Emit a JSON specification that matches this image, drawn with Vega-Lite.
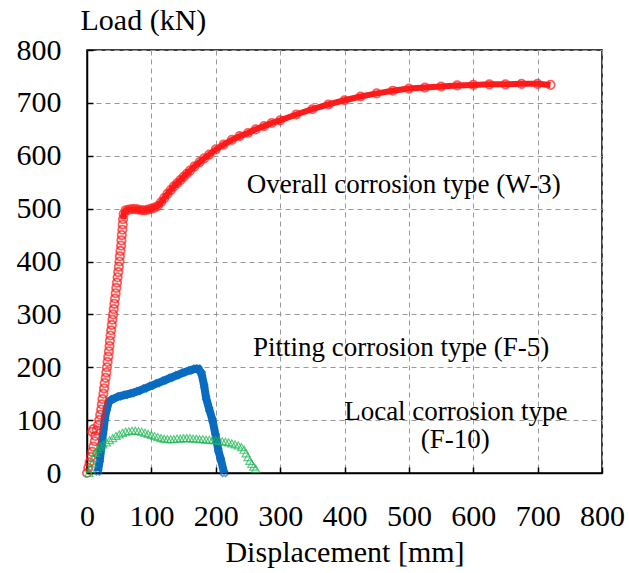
{
  "$schema": "https://vega.github.io/schema/vega-lite/v6.json",
  "width": 515,
  "height": 423,
  "autosize": "none",
  "padding": {"left": 87, "top": 50, "right": 27, "bottom": 100},
  "background": "white",
  "config": {
    "font": "Liberation Serif",
    "view": {"stroke": "#000", "strokeWidth": 1.5},
    "axis": {
      "labelFont": "Liberation Serif", "labelFontSize": 30, "labelColor": "#000",
      "titleFont": "Liberation Serif", "titleFontSize": 30, "titleColor": "#000", "titleFontWeight": "normal",
      "domainColor": "#000", "domainWidth": 1.5,
      "tickColor": "#000", "tickSize": -6, "tickWidth": 1.5,
      "labelOverlap": false, "labelFlush": false,
      "gridColor": "#999", "gridDash": [5, 4], "gridWidth": 1
    }
  },
  "datasets": {
    "curves": [
      {"series": "W-3", "x": 0, "y": 0}, {"series": "W-3", "x": 2, "y": 10}, {"series": "W-3", "x": 4, "y": 20}, {"series": "W-3", "x": 6, "y": 30},
      {"series": "W-3", "x": 8, "y": 40}, {"series": "W-3", "x": 10, "y": 50}, {"series": "W-3", "x": 12, "y": 60}, {"series": "W-3", "x": 13, "y": 70},
      {"series": "W-3", "x": 8, "y": 78}, {"series": "W-3", "x": 10, "y": 83},
      {"series": "W-3", "x": 15, "y": 80}, {"series": "W-3", "x": 17, "y": 90}, {"series": "W-3", "x": 19, "y": 100}, {"series": "W-3", "x": 20.5, "y": 110},
      {"series": "W-3", "x": 22, "y": 120}, {"series": "W-3", "x": 23, "y": 130}, {"series": "W-3", "x": 24, "y": 140}, {"series": "W-3", "x": 25.5, "y": 150},
      {"series": "W-3", "x": 26.5, "y": 160}, {"series": "W-3", "x": 27.5, "y": 170}, {"series": "W-3", "x": 29, "y": 180}, {"series": "W-3", "x": 30, "y": 190},
      {"series": "W-3", "x": 31, "y": 200}, {"series": "W-3", "x": 32, "y": 210}, {"series": "W-3", "x": 33, "y": 220}, {"series": "W-3", "x": 34, "y": 230},
      {"series": "W-3", "x": 35, "y": 240}, {"series": "W-3", "x": 35.5, "y": 250}, {"series": "W-3", "x": 36.5, "y": 260}, {"series": "W-3", "x": 37.5, "y": 270},
      {"series": "W-3", "x": 38.5, "y": 280}, {"series": "W-3", "x": 39.5, "y": 290}, {"series": "W-3", "x": 40.5, "y": 300}, {"series": "W-3", "x": 41.5, "y": 310},
      {"series": "W-3", "x": 42.5, "y": 320}, {"series": "W-3", "x": 43.5, "y": 330}, {"series": "W-3", "x": 44.5, "y": 340}, {"series": "W-3", "x": 45.5, "y": 350},
      {"series": "W-3", "x": 46.5, "y": 360}, {"series": "W-3", "x": 47.5, "y": 370}, {"series": "W-3", "x": 48.5, "y": 380}, {"series": "W-3", "x": 49.5, "y": 390},
      {"series": "W-3", "x": 50.5, "y": 400}, {"series": "W-3", "x": 51, "y": 410}, {"series": "W-3", "x": 52, "y": 420}, {"series": "W-3", "x": 53, "y": 430},
      {"series": "W-3", "x": 53.5, "y": 440}, {"series": "W-3", "x": 54, "y": 450}, {"series": "W-3", "x": 55, "y": 460}, {"series": "W-3", "x": 55.5, "y": 470},
      {"series": "W-3", "x": 56, "y": 480}, {"series": "W-3", "x": 57, "y": 490},
      {"series": "W-3", "x": 60, "y": 497}, {"series": "W-3", "x": 65, "y": 498}, {"series": "W-3", "x": 70, "y": 499}, {"series": "W-3", "x": 75, "y": 499}, {"series": "W-3", "x": 80, "y": 498}, {"series": "W-3", "x": 85, "y": 497}, {"series": "W-3", "x": 90, "y": 497},
      {"series": "W-3", "x": 95, "y": 498}, {"series": "W-3", "x": 100, "y": 500}, {"series": "W-3", "x": 105, "y": 502}, {"series": "W-3", "x": 110, "y": 505}, {"series": "W-3", "x": 115, "y": 512}, {"series": "W-3", "x": 120, "y": 520}, {"series": "W-3", "x": 125, "y": 528}, {"series": "W-3", "x": 130, "y": 535},
      {"series": "W-3", "x": 135, "y": 542}, {"series": "W-3", "x": 140, "y": 548}, {"series": "W-3", "x": 145, "y": 554}, {"series": "W-3", "x": 150, "y": 560}, {"series": "W-3", "x": 155, "y": 566}, {"series": "W-3", "x": 160, "y": 572}, {"series": "W-3", "x": 167, "y": 580}, {"series": "W-3", "x": 175, "y": 588},
      {"series": "W-3", "x": 182, "y": 595}, {"series": "W-3", "x": 190, "y": 602}, {"series": "W-3", "x": 200, "y": 612}, {"series": "W-3", "x": 212, "y": 621}, {"series": "W-3", "x": 225, "y": 630}, {"series": "W-3", "x": 237, "y": 637}, {"series": "W-3", "x": 250, "y": 643},
      {"series": "W-3", "x": 262, "y": 650}, {"series": "W-3", "x": 275, "y": 656}, {"series": "W-3", "x": 287, "y": 662}, {"series": "W-3", "x": 300, "y": 667}, {"series": "W-3", "x": 325, "y": 678}, {"series": "W-3", "x": 350, "y": 688}, {"series": "W-3", "x": 375, "y": 697}, {"series": "W-3", "x": 400, "y": 705},
      {"series": "W-3", "x": 425, "y": 712}, {"series": "W-3", "x": 450, "y": 718}, {"series": "W-3", "x": 475, "y": 723}, {"series": "W-3", "x": 500, "y": 727}, {"series": "W-3", "x": 525, "y": 729}, {"series": "W-3", "x": 550, "y": 731}, {"series": "W-3", "x": 575, "y": 733}, {"series": "W-3", "x": 600, "y": 734},
      {"series": "W-3", "x": 625, "y": 735}, {"series": "W-3", "x": 650, "y": 735}, {"series": "W-3", "x": 675, "y": 736}, {"series": "W-3", "x": 700, "y": 736}, {"series": "W-3", "x": 720, "y": 734},

      {"series": "F-5", "x": 17, "y": 3}, {"series": "F-5", "x": 20, "y": 25}, {"series": "F-5", "x": 23, "y": 55}, {"series": "F-5", "x": 26, "y": 85},
      {"series": "F-5", "x": 28, "y": 105}, {"series": "F-5", "x": 31, "y": 122}, {"series": "F-5", "x": 34, "y": 135}, {"series": "F-5", "x": 40, "y": 140},
      {"series": "F-5", "x": 50, "y": 145}, {"series": "F-5", "x": 60, "y": 148}, {"series": "F-5", "x": 70, "y": 151}, {"series": "F-5", "x": 80, "y": 155},
      {"series": "F-5", "x": 90, "y": 160}, {"series": "F-5", "x": 100, "y": 165}, {"series": "F-5", "x": 110, "y": 170}, {"series": "F-5", "x": 120, "y": 175},
      {"series": "F-5", "x": 130, "y": 180}, {"series": "F-5", "x": 140, "y": 185}, {"series": "F-5", "x": 150, "y": 190}, {"series": "F-5", "x": 160, "y": 194},
      {"series": "F-5", "x": 168, "y": 197}, {"series": "F-5", "x": 173, "y": 197}, {"series": "F-5", "x": 178, "y": 188}, {"series": "F-5", "x": 182, "y": 165},
      {"series": "F-5", "x": 185, "y": 142}, {"series": "F-5", "x": 190, "y": 120}, {"series": "F-5", "x": 195, "y": 100}, {"series": "F-5", "x": 200, "y": 70},
      {"series": "F-5", "x": 204, "y": 43}, {"series": "F-5", "x": 208, "y": 25}, {"series": "F-5", "x": 213, "y": 0},

      {"series": "F-10", "x": 3, "y": 0}, {"series": "F-10", "x": 5, "y": 8}, {"series": "F-10", "x": 8, "y": 18}, {"series": "F-10", "x": 10, "y": 28},
      {"series": "F-10", "x": 13, "y": 38}, {"series": "F-10", "x": 16, "y": 45}, {"series": "F-10", "x": 20, "y": 50}, {"series": "F-10", "x": 25, "y": 54},
      {"series": "F-10", "x": 30, "y": 58}, {"series": "F-10", "x": 35, "y": 62}, {"series": "F-10", "x": 40, "y": 66}, {"series": "F-10", "x": 45, "y": 70},
      {"series": "F-10", "x": 50, "y": 73}, {"series": "F-10", "x": 55, "y": 76}, {"series": "F-10", "x": 60, "y": 78}, {"series": "F-10", "x": 65, "y": 79},
      {"series": "F-10", "x": 70, "y": 80}, {"series": "F-10", "x": 75, "y": 80}, {"series": "F-10", "x": 80, "y": 79}, {"series": "F-10", "x": 85, "y": 78},
      {"series": "F-10", "x": 90, "y": 76}, {"series": "F-10", "x": 95, "y": 74}, {"series": "F-10", "x": 100, "y": 72}, {"series": "F-10", "x": 105, "y": 70},
      {"series": "F-10", "x": 110, "y": 68}, {"series": "F-10", "x": 115, "y": 66}, {"series": "F-10", "x": 120, "y": 65}, {"series": "F-10", "x": 125, "y": 64},
      {"series": "F-10", "x": 130, "y": 64}, {"series": "F-10", "x": 135, "y": 64}, {"series": "F-10", "x": 140, "y": 65}, {"series": "F-10", "x": 145, "y": 65},
      {"series": "F-10", "x": 150, "y": 66}, {"series": "F-10", "x": 155, "y": 66}, {"series": "F-10", "x": 160, "y": 66}, {"series": "F-10", "x": 165, "y": 65},
      {"series": "F-10", "x": 170, "y": 65}, {"series": "F-10", "x": 175, "y": 64}, {"series": "F-10", "x": 180, "y": 64}, {"series": "F-10", "x": 185, "y": 63},
      {"series": "F-10", "x": 190, "y": 63}, {"series": "F-10", "x": 195, "y": 62}, {"series": "F-10", "x": 200, "y": 62}, {"series": "F-10", "x": 205, "y": 61},
      {"series": "F-10", "x": 210, "y": 60}, {"series": "F-10", "x": 215, "y": 59}, {"series": "F-10", "x": 220, "y": 58}, {"series": "F-10", "x": 225, "y": 56},
      {"series": "F-10", "x": 230, "y": 54}, {"series": "F-10", "x": 235, "y": 52}, {"series": "F-10", "x": 240, "y": 49}, {"series": "F-10", "x": 244, "y": 44},
      {"series": "F-10", "x": 247, "y": 37}, {"series": "F-10", "x": 250, "y": 30}, {"series": "F-10", "x": 253, "y": 23}, {"series": "F-10", "x": 256, "y": 17},
      {"series": "F-10", "x": 259, "y": 12}, {"series": "F-10", "x": 262, "y": 8}
    ],
    "notes": [
      {"x": 492, "y": 545, "text": "Overall corrosion type (W-3)"},
      {"x": 488, "y": 237, "text": "Pitting corrosion type (F-5)"},
      {"x": 573, "y": 115, "text": "Local corrosion type"},
      {"x": 572, "y": 62, "text": "(F-10)"}
    ]
  },
  "layer": [
    {
      "data": {"name": "curves"},
      "transform": [{"filter": "datum.series === 'W-3' && datum.x >= 56"}],
      "mark": {"type": "line", "color": "#FF1A1A", "strokeWidth": 6, "clip": true},
      "encoding": {
        "x": {"field": "x", "type": "quantitative", "scale": {"domain": [0, 800]},
          "axis": {"values": [0, 100, 200, 300, 400, 500, 600, 700, 800], "title": "Displacement  [mm]", "labelPadding": 34, "titlePadding": 6, "grid": true}},
        "y": {"field": "y", "type": "quantitative", "scale": {"domain": [0, 800]},
          "axis": {"values": [0, 100, 200, 300, 400, 500, 600, 700, 800], "title": "Load (kN)", "titleAngle": 0, "titleAlign": "left", "titleBaseline": "middle", "titleX": -7, "titleY": -30, "labelPadding": 32, "grid": true}}
      }
    },
    {
      "data": {"name": "curves"},
      "transform": [{"filter": "datum.series === 'F-5'"}],
      "mark": {"type": "line", "color": "#0A6CC0", "strokeWidth": 8},
      "encoding": {"x": {"field": "x", "type": "quantitative"}, "y": {"field": "y", "type": "quantitative"}}
    },
    {
      "data": {"name": "curves"},
      "transform": [{"filter": "datum.series === 'F-5'"}],
      "mark": {"type": "point", "shape": "cross", "filled": false, "color": "#0A6CC0", "size": 50, "strokeWidth": 1.5, "angle": 45},
      "encoding": {"x": {"field": "x", "type": "quantitative"}, "y": {"field": "y", "type": "quantitative"}}
    },
    {
      "data": {"name": "curves"},
      "transform": [{"filter": "datum.series === 'W-3'"}],
      "mark": {"type": "point", "shape": "circle", "filled": false, "color": "#FF1A1A", "size": 70, "strokeWidth": 1.8},
      "encoding": {"x": {"field": "x", "type": "quantitative"}, "y": {"field": "y", "type": "quantitative"}}
    },
    {
      "data": {"name": "curves"},
      "transform": [{"filter": "datum.series === 'F-10'"}],
      "mark": {"type": "point", "shape": "triangle-up", "filled": false, "color": "#1DB954", "size": 65, "strokeWidth": 1.2},
      "encoding": {"x": {"field": "x", "type": "quantitative"}, "y": {"field": "y", "type": "quantitative"}}
    },
    {
      "data": {"name": "notes"},
      "mark": {"type": "text", "font": "Liberation Serif", "fontSize": 27, "color": "#000", "align": "center", "baseline": "middle"},
      "encoding": {"x": {"field": "x", "type": "quantitative"}, "y": {"field": "y", "type": "quantitative"}, "text": {"field": "text"}}
    }
  ]
}
